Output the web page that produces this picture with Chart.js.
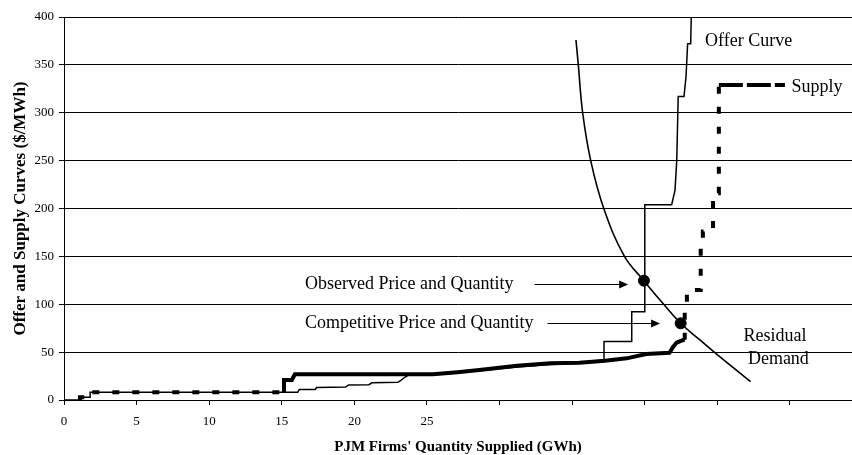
<!DOCTYPE html>
<html>
<head>
<meta charset="utf-8">
<script src="https://cdn.jsdelivr.net/npm/chart.js@4.4.1/dist/chart.umd.min.js"></script>
<style>
  html, body { margin: 0; padding: 0; background: #fff; }
</style>
</head>
<body>
<canvas id="myChart" width="852" height="455"></canvas>
<script>
// values (GWh, $/MWh)
const offerQty   = [0, 1.1, 1.1, 1.8, 1.8, 16.1, 16.2, 17.3, 17.4, 19.4, 19.6, 21.0, 21.2, 23.0, 23.2, 23.5, 23.8, 25.4, 27.1, 28.6, 31.2, 33.5, 35.5, 37.19, 37.19, 39.1, 39.1, 40.0, 40.0, 41.85, 42.08, 42.2, 42.3, 42.7, 42.84, 42.95, 43.16, 43.2];
const offerPrice = [0, 0, 3, 3, 8, 8, 11, 11, 13, 13.5, 15.7, 16, 18, 18.5, 20.5, 24, 26.8, 26.8, 28.5, 30.5, 34.5, 37, 38.5, 42, 61, 61, 92.2, 92.2, 204, 204, 219, 250, 317, 317, 338, 372, 372, 400];

const supplyQty   = [1.1, 1.1, 1.8, 1.8, 15.15, 15.15, 15.7, 15.8, 15.9, 25.4, 27.1, 28.6, 31.2, 33.5, 35.5, 37.26, 38.75, 40.1, 41.7, 41.96, 42.2, 42.66, 42.75, 42.75, 42.9, 42.9, 43.85, 43.85, 44.0, 44.0, 44.7, 44.7, 45.1, 45.1, 49.65];
const supplyPrice = [0, 2.8, 2.8, 8, 8, 21, 21, 24, 26.8, 26.8, 29, 31.3, 35.8, 38.3, 38.8, 41, 43.5, 48, 49.4, 55.7, 60, 62.7, 63, 96, 96, 115, 115, 167, 167, 176, 176, 216, 216, 329, 329];

const demandQty   = [35.26, 35.42, 35.72, 36.29, 37.21, 38.6, 39.94, 41.05, 42.47, 43.80, 45.18, 47.29];
const demandPrice = [376, 350, 300, 249, 198.4, 150, 124.6, 104.4, 80.1, 62.7, 45, 19.1];

const markQty   = [39.94, 42.47];
const markPrice = [124.6, 80.1];

const xLabeled = [0, 5, 10, 15, 20, 25];

const noteText  = ['Offer Curve', 'Supply', 'Observed Price and Quantity', 'Competitive Price and Quantity', 'Residual', 'Demand'];
const noteQty   = [44.15, 50.1, 16.6, 16.6, 46.8, 47.1];
const notePrice = [375, 327, 121, 80.4, 66.8, 42.8];

const arrowFrom  = [32.4, 33.3];
const arrowTo    = [38.85, 41.05];
const arrowPrice = [121, 80.4];

const pts = (xs, ys) => xs.map((x, i) => ({ x: x, y: ys[i] }));

const supplyDash = (ctx) => {
    const x0 = ctx.p0.parsed.x, y0 = ctx.p0.parsed.y, y1 = ctx.p1.parsed.y;
    if (y0 > 300 && y1 > 300) return [24, 4];
    if (x0 < 15 || x0 >= 42.7) return [7, 13];
    return [];
};

const notes = {
    id: 'notes',
    afterDatasetsDraw(chart) {
        const { ctx, scales: { x, y } } = chart;
        ctx.save();
        ctx.fillStyle = '#000';
        ctx.strokeStyle = '#000';
        ctx.font = '18px "Liberation Serif"';
        ctx.textBaseline = 'middle';
        ctx.textAlign = 'left';
        noteText.forEach((t, i) => {
            ctx.fillText(t, x.getPixelForValue(noteQty[i]), y.getPixelForValue(notePrice[i]));
        });
        ctx.lineWidth = 1;
        arrowFrom.forEach((q, i) => {
            const x0 = x.getPixelForValue(q);
            const x1 = x.getPixelForValue(arrowTo[i]);
            const py = Math.round(y.getPixelForValue(arrowPrice[i])) + 0.5;
            ctx.beginPath();
            ctx.moveTo(x0, py);
            ctx.lineTo(x1 - 8, py);
            ctx.stroke();
            ctx.beginPath();
            ctx.moveTo(x1, py);
            ctx.lineTo(x1 - 9, py - 4);
            ctx.lineTo(x1 - 9, py + 4);
            ctx.closePath();
            ctx.fill();
        });
        ctx.restore();
    }
};

const serif = '"Liberation Serif", "Times New Roman", serif';

new Chart(document.getElementById('myChart'), {
    type: 'line',
    data: {
        datasets: [{
            label: 'Offer Curve',
            data: pts(offerQty, offerPrice),
            borderColor: '#000',
            borderWidth: 1.5,
            pointRadius: 0,
            tension: 0
        }, {
            label: 'Supply',
            data: pts(supplyQty, supplyPrice),
            borderColor: '#000',
            borderWidth: 4,
            pointRadius: 0,
            tension: 0,
            segment: { borderDash: supplyDash }
        }, {
            label: 'Residual Demand',
            data: pts(demandQty, demandPrice),
            borderColor: '#000',
            borderWidth: 1.6,
            pointRadius: 0,
            tension: 0.4
        }, {
            type: 'scatter',
            label: 'Equilibria',
            data: pts(markQty, markPrice),
            backgroundColor: '#000',
            borderColor: '#000',
            pointRadius: 5.5,
            showLine: false
        }]
    },
    options: {
        responsive: false,
        animation: false,
        devicePixelRatio: 1,
        layout: { autoPadding: false, padding: { top: 17, right: 0, bottom: 0, left: 0 } },
        plugins: {
            legend: { display: false },
            tooltip: { enabled: false }
        },
        scales: {
            x: {
                type: 'linear',
                min: 0,
                max: 54.27,
                afterFit: (s) => { s.height = 55; },
                border: { display: true, color: '#000', width: 1 },
                grid: { drawOnChartArea: false, drawTicks: true, tickLength: 5, color: '#000' },
                ticks: {
                    stepSize: 5,
                    includeBounds: false,
                    autoSkip: false,
                    maxRotation: 0,
                    padding: 9,
                    color: '#000',
                    font: { family: serif, size: 13 },
                    callback: (v) => xLabeled.includes(v) ? String(v) : ''
                },
                title: {
                    display: true,
                    text: "PJM Firms' Quantity Supplied (GWh)",
                    color: '#000',
                    font: { family: serif, size: 15, weight: 'bold', lineHeight: 1 },
                    padding: { top: 0, bottom: 0 }
                }
            },
            y: {
                min: 0,
                max: 400,
                afterFit: (s) => { s.width = 64; },
                border: { display: true, color: '#000', width: 1 },
                grid: { color: '#000', lineWidth: 1, tickLength: 5 },
                ticks: {
                    stepSize: 50,
                    padding: 5,
                    color: '#000',
                    font: { family: serif, size: 13 }
                },
                title: {
                    display: true,
                    text: 'Offer and Supply Curves ($/MWh)',
                    color: '#000',
                    font: { family: serif, size: 17, weight: 'bold', lineHeight: 1.2 },
                    padding: { top: 10, bottom: 0 }
                }
            }
        }
    },
    plugins: [notes]
});
</script>
</body>
</html>
